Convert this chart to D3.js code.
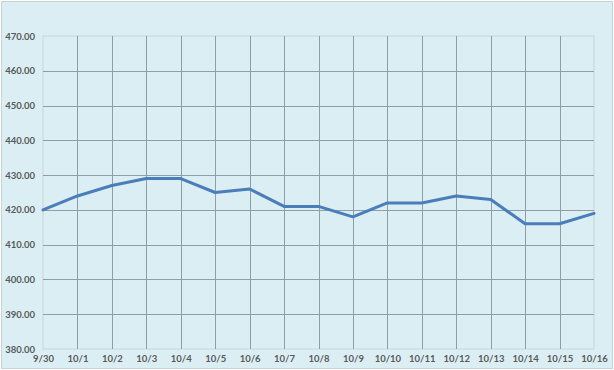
<!DOCTYPE html>
<html><head><meta charset="utf-8">
<script src="https://cdn.jsdelivr.net/npm/d3@7"></script>
<style>body{margin:0;background:#fff}svg{display:block}</style>
</head><body><svg id="c" width="614" height="370"></svg>
<script>
const categories = ["9/30","10/1","10/2","10/3","10/4","10/5","10/6","10/7","10/8","10/9","10/10","10/11","10/12","10/13","10/14","10/15","10/16"];
const values = [420,424,427,429,429,425,426,421,421,418,422,422,424,423,416,416,419];
const yTicks = [380,390,400,410,420,430,440,450,460,470];

const svg = d3.select("#c");
svg.append("rect").attr("x",1.5).attr("y",1.5).attr("width",611).attr("height",367)
  .attr("fill","#dbeef4").attr("stroke","#c8d3d8").attr("stroke-width",1);

const L=43, R=594, T=36, B=349;
const x = d3.scalePoint().domain(categories).range([L,R]);
const y = d3.scaleLinear().domain([380,470]).range([B,T]);

// plot border
svg.append("rect").attr("x",L).attr("y",T).attr("width",R-L).attr("height",B-T)
  .attr("fill","none").attr("stroke","#cfdde3").attr("stroke-width",1.5);

const g = svg.append("g");
g.selectAll("line.h").data(yTicks.filter(v=>v>380&&v<470)).join("line")
  .attr("x1",L).attr("x2",R).attr("y1",d=>Math.round(y(d))+0.5).attr("y2",d=>Math.round(y(d))+0.5)
  .attr("stroke","#8f9ea6").attr("stroke-width",1);
g.selectAll("line.v").data(categories.slice(1,-1)).join("line")
  .attr("y1",T).attr("y2",B).attr("x1",d=>Math.round(x(d))+0.5).attr("x2",d=>Math.round(x(d))+0.5)
  .attr("stroke","#8f9ea6").attr("stroke-width",1);

// y axis labels
const yAxis = d3.axisLeft(y).tickValues(yTicks).tickFormat(d3.format(".2f")).tickSize(0).tickPadding(8);
const ya = svg.append("g").attr("transform",`translate(${L},0)`).call(yAxis);
ya.select(".domain").remove();
ya.selectAll("text").attr("font-family","Lato, 'Open Sans', sans-serif").attr("font-weight","bold")
  .attr("font-size","9.5px").attr("fill","#595959");

const xAxis = d3.axisBottom(x).tickSize(0).tickPadding(6);
const xa = svg.append("g").attr("transform",`translate(0,${B})`).call(xAxis);
xa.select(".domain").remove();
xa.selectAll("text").attr("font-family","Lato, 'Open Sans', sans-serif").attr("font-weight","bold")
  .attr("font-size","9.5px").attr("fill","#595959");

const line = d3.line().x((d,i)=>x(categories[i])).y(d=>y(d));
svg.append("path").datum(values).attr("d",line).attr("fill","none")
  .attr("stroke","#4a7ebb").attr("stroke-width",3).attr("stroke-linejoin","round").attr("stroke-linecap","round");
</script></body></html>
